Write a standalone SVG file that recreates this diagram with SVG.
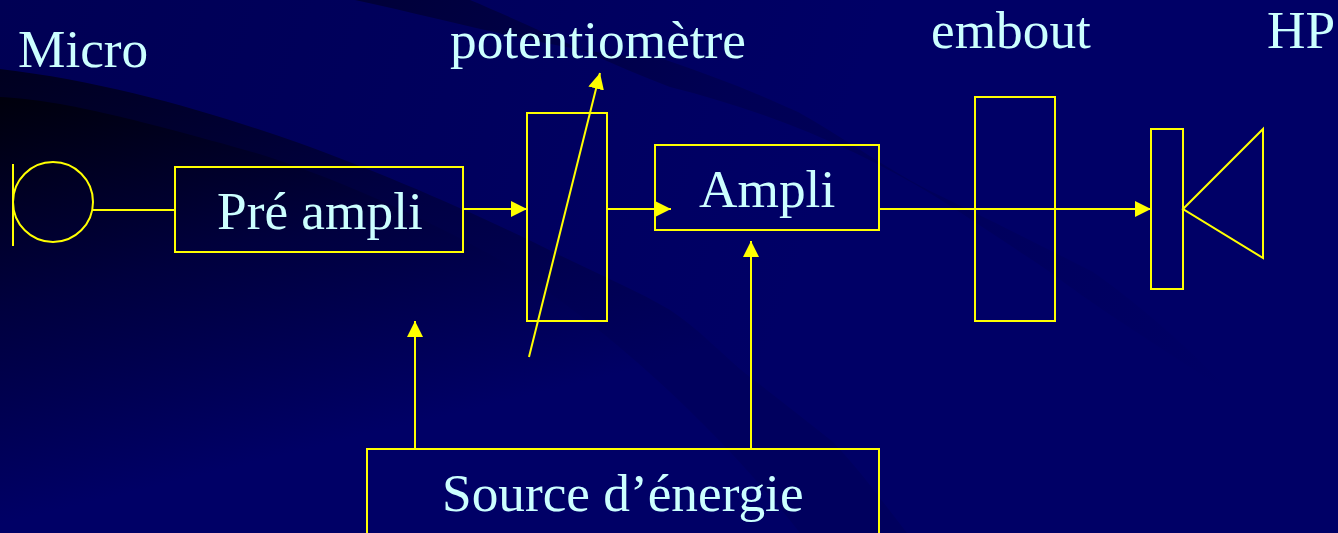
<svg xmlns="http://www.w3.org/2000/svg" width="1338" height="533" viewBox="0 0 1338 533">
<defs>
<linearGradient id="base" gradientUnits="userSpaceOnUse" x1="0" y1="0" x2="800" y2="260"><stop offset="0" stop-color="#000054"/><stop offset="0.6" stop-color="#00005e"/><stop offset="1" stop-color="#000066"/></linearGradient>
<linearGradient id="outer" gradientUnits="userSpaceOnUse" x1="0" y1="60" x2="140" y2="520"><stop offset="0" stop-color="#00001e"/><stop offset="0.5" stop-color="#000042"/><stop offset="1" stop-color="#00005e"/></linearGradient>
<linearGradient id="inner" gradientUnits="userSpaceOnUse" x1="0" y1="90" x2="100" y2="500"><stop offset="0" stop-color="#00000a"/><stop offset="0.5" stop-color="#00003e"/><stop offset="1" stop-color="#000066"/></linearGradient>
<linearGradient id="band" gradientUnits="userSpaceOnUse" x1="350" y1="0" x2="1220" y2="400"><stop offset="0" stop-color="#000038"/><stop offset="0.4" stop-color="#000054"/><stop offset="1" stop-color="#000066"/></linearGradient>
<marker id="ah" markerWidth="16" markerHeight="16" refX="16" refY="8" orient="auto" markerUnits="userSpaceOnUse"><path d="M0 0L16 8L0 16Z" fill="#ffff00"/></marker>
</defs>
<style>
.s{fill:none;stroke:#ffff00;stroke-width:2}
.l{stroke:#ffff00;stroke-width:2;fill:none}
.a{marker-end:url(#ah)}
text{font-family:"Liberation Serif","Times New Roman",serif;font-size:53.3px;fill:#ccffff}
</style>
<rect width="1338" height="533" fill="url(#base)"/>
<path d="M355 0C470 25 570 55 660 58C710 75 750 90 798 112C840 135 880 165 928 190C990 220 1040 245 1093 272C1140 305 1185 345 1240 400C1150 340 1100 310 1050 272C1010 245 975 222 941 200C860 150 770 112 670 87C600 60 530 25 470 0Z" fill="url(#band)"/>
<path d="M0 69C110 82 210 112 299 143C380 172 480 215 555 253C600 275 640 292 670 310C700 330 725 357 746 374C775 396 805 420 833 442C860 470 885 505 907 533L0 533Z" fill="url(#outer)"/>
<path d="M0 97C60 100 128 117 256 153C330 176 420 215 500 260C600 320 720 430 800 533L0 533Z" fill="url(#inner)"/>
<g id="connectors">
<path class="l" d="M93 210H175"/>
<path class="l a" d="M463 209H527"/>
<path class="l a" d="M607 209H671"/>
<path class="l a" d="M879 209H1151"/>
<path class="l a" d="M529 357L600 73"/>
<path class="l a" d="M415 449V321"/>
<path class="l a" d="M751 449V241"/>
</g>
<g id="micro"><ellipse class="s" cx="53" cy="202" rx="40" ry="40"/><path class="l" d="M13 164V246"/><text x="18" y="67">Micro</text></g>
<g id="preampli"><rect class="s" x="175" y="167" width="288" height="85"/><text x="217" y="229">Pré ampli</text></g>
<g id="potentiometre"><rect class="s" x="527" y="113" width="80" height="208"/><text x="450" y="58">potentiomètre</text></g>
<g id="ampli"><rect class="s" x="655" y="145" width="224" height="85"/><text x="699" y="207">Ampli</text></g>
<g id="embout"><rect class="s" x="975" y="97" width="80" height="224"/><text x="931" y="48">embout</text></g>
<g id="hp"><rect class="s" x="1151" y="129" width="32" height="160"/><path class="l" d="M1183 209L1263 129V258Z"/><text x="1267" y="48">HP</text></g>
<g id="source"><rect class="s" x="367" y="449" width="512" height="100"/><text x="442" y="511">Source d’énergie</text></g>
</svg>
